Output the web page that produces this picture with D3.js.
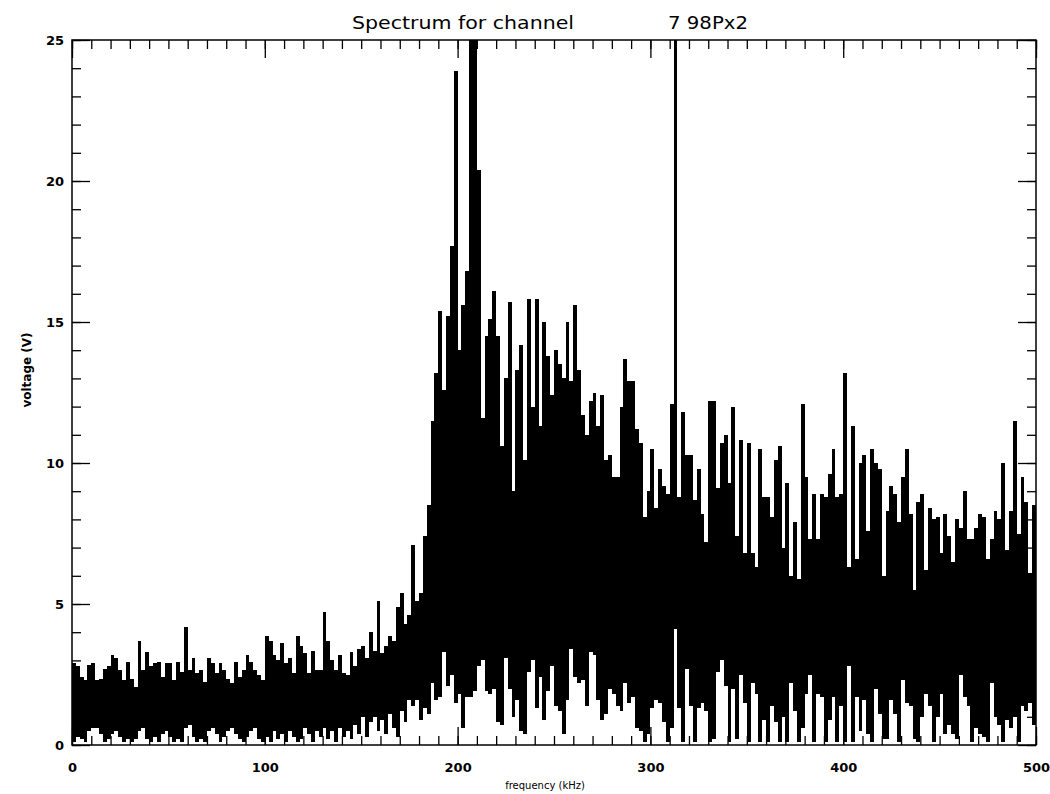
<!DOCTYPE html>
<html>
<head>
<meta charset="utf-8">
<script src="https://cdn.jsdelivr.net/npm/d3@7"></script>
<style>
  html, body { margin: 0; padding: 0; background: #fff; }
  svg { display: block; }
  text { font-family: "DejaVu Sans", sans-serif; fill: #000; }
</style>
</head>
<body>
<svg id="spectre" width="1050" height="794"></svg>
<script>
const largeurCanal = 2 // kHz

// Sommet de chaque canal (V) : pics
const hautCanal = [
    2.9, 2.8, 2.4, 2.3, 2.85, 2.9, 2.3, 2.35, 2.7, 2.8,
    3.2, 3.1, 2.65, 2.3, 2.95, 2.35, 2.05, 3.7, 2.65, 3.3,
    2.8, 2.9, 2.95, 2.4, 2.9, 2.9, 2.3, 2.95, 2.6, 4.2,
    2.65, 3.1, 2.55, 2.65, 2.25, 3.1, 2.9, 2.55, 2.9, 2.65,
    2.35, 2.2, 2.95, 2.4, 2.65, 3.2, 2.95, 2.65, 2.5, 2.3,
    3.85, 3.7, 3.2, 3.0, 3.6, 2.9, 3.1, 2.55, 3.85, 3.5,
    3.25, 2.55, 3.35, 2.65, 2.65, 4.7, 3.7, 3.0, 2.65, 3.2,
    2.55, 2.5, 3.3, 2.8, 3.4, 3.5, 3.1, 4.0, 3.35, 5.1,
    3.25, 3.5, 3.85, 3.7, 4.9, 5.4, 4.3, 4.6, 7.1, 5.1,
    5.4, 7.4, 8.5, 11.5, 13.2, 15.4, 12.6, 15.2, 17.7, 23.9,
    14.0, 15.6, 16.8, 27, 27, 20.4, 11.6, 14.5, 15.1, 16.1,
    14.5, 10.6, 13.0, 15.7, 9.0, 13.3, 14.2, 10.1, 15.8, 12.0,
    15.8, 11.3, 15.0, 13.8, 12.4, 14.0, 13.5, 13.0, 15.0, 12.9,
    15.6, 13.3, 11.7, 11.0, 12.2, 12.5, 11.3, 12.4, 10.1, 10.3,
    9.5, 9.5, 12.0, 13.7, 12.9, 12.9, 11.2, 10.7, 8.1, 9.0,
    10.5, 8.4, 9.8, 9.2, 8.9, 12.1, 27, 8.8, 11.8, 10.3,
    10.3, 8.7, 9.8, 8.2, 7.2, 12.2, 12.2, 9.1, 10.7, 11.0,
    9.3, 12.0, 7.4, 10.8, 6.8, 10.7, 6.8, 6.3, 10.5, 8.8,
    8.8, 8.1, 10.1, 10.6, 7.0, 9.3, 6.0, 7.9, 5.9, 12.1,
    9.5, 7.3, 8.9, 7.3, 8.9, 8.8, 9.6, 10.5, 8.8, 8.9,
    13.2, 6.3, 11.3, 6.6, 10.0, 10.3, 7.6, 10.5, 10.0, 9.8,
    6.0, 8.3, 9.2, 8.9, 7.9, 9.5, 10.5, 8.2, 5.5, 8.6,
    8.9, 6.2, 8.4, 8.0, 8.1, 6.8, 8.2, 7.4, 6.5, 8.0,
    7.7, 9.0, 7.3, 7.3, 7.7, 8.2, 8.1, 6.6, 7.3, 8.3,
    8.0, 10.0, 6.9, 8.3, 11.5, 7.5, 9.5, 8.6, 6.1, 8.5
]

// Creux de chaque canal (V) : bas du signal
const basCanal = [
    0.1, 0.3, 0.2, 0.1, 0.5, 0.6, 0.6, 0.4, 0.1, 0.2,
    0.4, 0.5, 0.3, 0.1, 0.2, 0.1, 0.2, 0.5, 0.6, 0.2,
    0.1, 0.3, 0.1, 0.4, 0.5, 0.3, 0.1, 0.2, 0.1, 0.6,
    0.7, 0.3, 0.1, 0.2, 0.1, 0.5, 0.6, 0.4, 0.1, 0.3,
    0.5, 0.6, 0.4, 0.2, 0.1, 0.3, 0.5, 0.6, 0.2, 0.1,
    0.3, 0.1, 0.5, 0.2, 0.4, 0.1, 0.5, 0.3, 0.1, 0.2,
    0.6, 0.4, 0.1, 0.5, 0.3, 0.6, 0.2, 0.5, 0.1, 0.6,
    0.3, 0.5, 0.2, 0.7, 0.4, 1.0, 0.3, 0.8, 1.0, 0.5,
    0.9, 0.4, 1.1, 0.6, 0.3, 1.2, 0.8, 1.6, 1.4, 1.6,
    0.9, 1.3, 1.1, 2.2, 1.6, 1.7, 3.3, 2.1, 2.5, 1.5,
    1.8, 0.6, 1.7, 1.7, 1.9, 2.8, 3.0, 1.9, 1.8, 2.0,
    0.8, 0.7, 3.1, 2.0, 1.0, 1.6, 0.5, 0.4, 2.6, 3.0,
    1.3, 2.4, 0.9, 1.9, 2.8, 1.4, 1.2, 0.4, 1.6, 3.4,
    2.4, 2.2, 2.3, 1.4, 3.3, 3.2, 1.6, 0.9, 1.1, 2.0,
    1.8, 1.4, 1.2, 2.2, 1.5, 1.7, 0.6, 0.5, 0.1, 0.4,
    1.3, 1.6, 1.5, 0.8, 0.1, 0.6, 4.1, 1.3, 0.1, 2.7,
    1.4, 0.1, 1.3, 1.5, 1.2, 0.1, 0.2, 2.6, 3.0, 2.1,
    0.1, 2.0, 0.2, 2.5, 1.5, 0.1, 2.2, 1.8, 0.1, 0.9,
    0.1, 1.4, 0.8, 0.1, 1.0, 0.1, 2.2, 1.2, 0.1, 0.6,
    1.8, 2.5, 0.1, 1.8, 1.7, 0.1, 0.9, 1.7, 0.1, 1.4,
    0.1, 2.8, 0.1, 1.7, 0.5, 1.6, 0.4, 0.1, 2.0, 1.1,
    0.2, 0.2, 1.6, 1.1, 0.1, 2.3, 1.5, 1.4, 0.2, 0.1,
    1.0, 1.8, 1.4, 0.1, 1.0, 1.8, 0.4, 0.7, 0.4, 0.2,
    2.5, 1.7, 1.4, 0.1, 0.6, 0.4, 0.3, 0.1, 2.2, 1.0,
    0.7, 0.1, 0.9, 0.6, 1.0, 0.1, 1.4, 1.2, 1.5, 0.7
]

// Graduations
const ticksX = [0, 100, 200, 300, 400, 500]
const ticksXMineurs = d3.range(0, 501, 10)
const ticksY = [0, 5, 10, 15, 20, 25]
const ticksYMineurs = d3.range(0, 26, 1)

// Textes
const titre = 'Spectrum for channel'
const titreCanal = '7 98Px2'
const titreX = 'frequency (kHz)'
const titreY = 'voltage (V)'

/**
 * On dessine le spectre : un bloc par canal, du creux jusqu'au pic.
 */
function dessinerSpectre(){
    const svg = d3.select('#spectre')

    // Cadre du graphe
    const gauche = 72, droite = 1036, haut = 40, bas = 745

    const x = d3.scaleLinear().domain([0, 500]).range([gauche, droite])
    const y = d3.scaleLinear().domain([0, 25]).range([bas, haut])

    // On coupe ce qui dépasse 25 V
    svg.append('clipPath')
        .attr('id', 'zoneGraphe')
        .append('rect')
        .attr('x', gauche)
        .attr('y', haut)
        .attr('width', droite - gauche)
        .attr('height', bas - haut)

    const canaux = hautCanal.map((h, i) => ({ f: i * largeurCanal, haut: h, bas: basCanal[i] }))
    // dernier point pour fermer le dernier canal à 500 kHz
    const dernier = canaux[canaux.length - 1]
    canaux.push({ f: 500, haut: dernier.haut, bas: dernier.bas })

    const aire = d3.area()
        .x(d => x(d.f))
        .y0(d => y(d.bas))
        .y1(d => y(d.haut))
        .curve(d3.curveStepAfter)

    svg.append('path')
        .datum(canaux)
        .attr('clip-path', 'url(#zoneGraphe)')
        .attr('d', aire)
        .attr('fill', 'black')
        .attr('shape-rendering', 'crispEdges')

    // Axes : graduations vers l'intérieur sur les quatre côtés
    svg.append('g').attr('transform', `translate(0,${bas})`)
        .call(d3.axisBottom(x).tickValues(ticksX).tickSize(-18).tickPadding(18).tickFormat(d3.format('d')))
    svg.append('g').attr('transform', `translate(0,${bas})`)
        .call(d3.axisBottom(x).tickValues(ticksXMineurs).tickSize(-9).tickFormat(''))
    svg.append('g').attr('transform', `translate(0,${haut})`)
        .call(d3.axisTop(x).tickValues(ticksX).tickSize(-18).tickFormat(''))
    svg.append('g').attr('transform', `translate(0,${haut})`)
        .call(d3.axisTop(x).tickValues(ticksXMineurs).tickSize(-9).tickFormat(''))

    svg.append('g').attr('transform', `translate(${gauche},0)`)
        .call(d3.axisLeft(y).tickValues(ticksY).tickSize(-18).tickPadding(8).tickFormat(d3.format('d')))
    svg.append('g').attr('transform', `translate(${gauche},0)`)
        .call(d3.axisLeft(y).tickValues(ticksYMineurs).tickSize(-9).tickFormat(''))
    svg.append('g').attr('transform', `translate(${droite},0)`)
        .call(d3.axisRight(y).tickValues(ticksY).tickSize(-18).tickFormat(''))
    svg.append('g').attr('transform', `translate(${droite},0)`)
        .call(d3.axisRight(y).tickValues(ticksYMineurs).tickSize(-9).tickFormat(''))

    svg.selectAll('.domain').remove()
    svg.selectAll('.tick line')
        .attr('stroke', 'black')
        .attr('stroke-width', 1.3)
    svg.selectAll('.tick text')
        .style('font-size', '13px')
        .style('font-weight', 'bold')

    // Le cadre
    svg.append('rect')
        .attr('x', gauche)
        .attr('y', haut)
        .attr('width', droite - gauche)
        .attr('height', bas - haut)
        .attr('fill', 'none')
        .attr('stroke', 'black')
        .attr('stroke-width', 1.5)

    // Titres
    svg.append('text')
        .attr('x', 352)
        .attr('y', 29)
        .attr('textLength', 222)
        .attr('lengthAdjust', 'spacingAndGlyphs')
        .style('font-size', '18px')
        .text(titre)
    svg.append('text')
        .attr('x', 668)
        .attr('y', 29)
        .attr('textLength', 80)
        .attr('lengthAdjust', 'spacingAndGlyphs')
        .style('font-size', '18px')
        .text(titreCanal)
    svg.append('text')
        .attr('x', 545)
        .attr('y', 789)
        .attr('text-anchor', 'middle')
        .style('font-size', '10px')
        .text(titreX)
    svg.append('text')
        .attr('transform', 'translate(31,370) rotate(-90)')
        .attr('text-anchor', 'middle')
        .style('font-size', '12px')
        .style('font-weight', 'bold')
        .text(titreY)
}

dessinerSpectre()
</script>
</body>
</html>
